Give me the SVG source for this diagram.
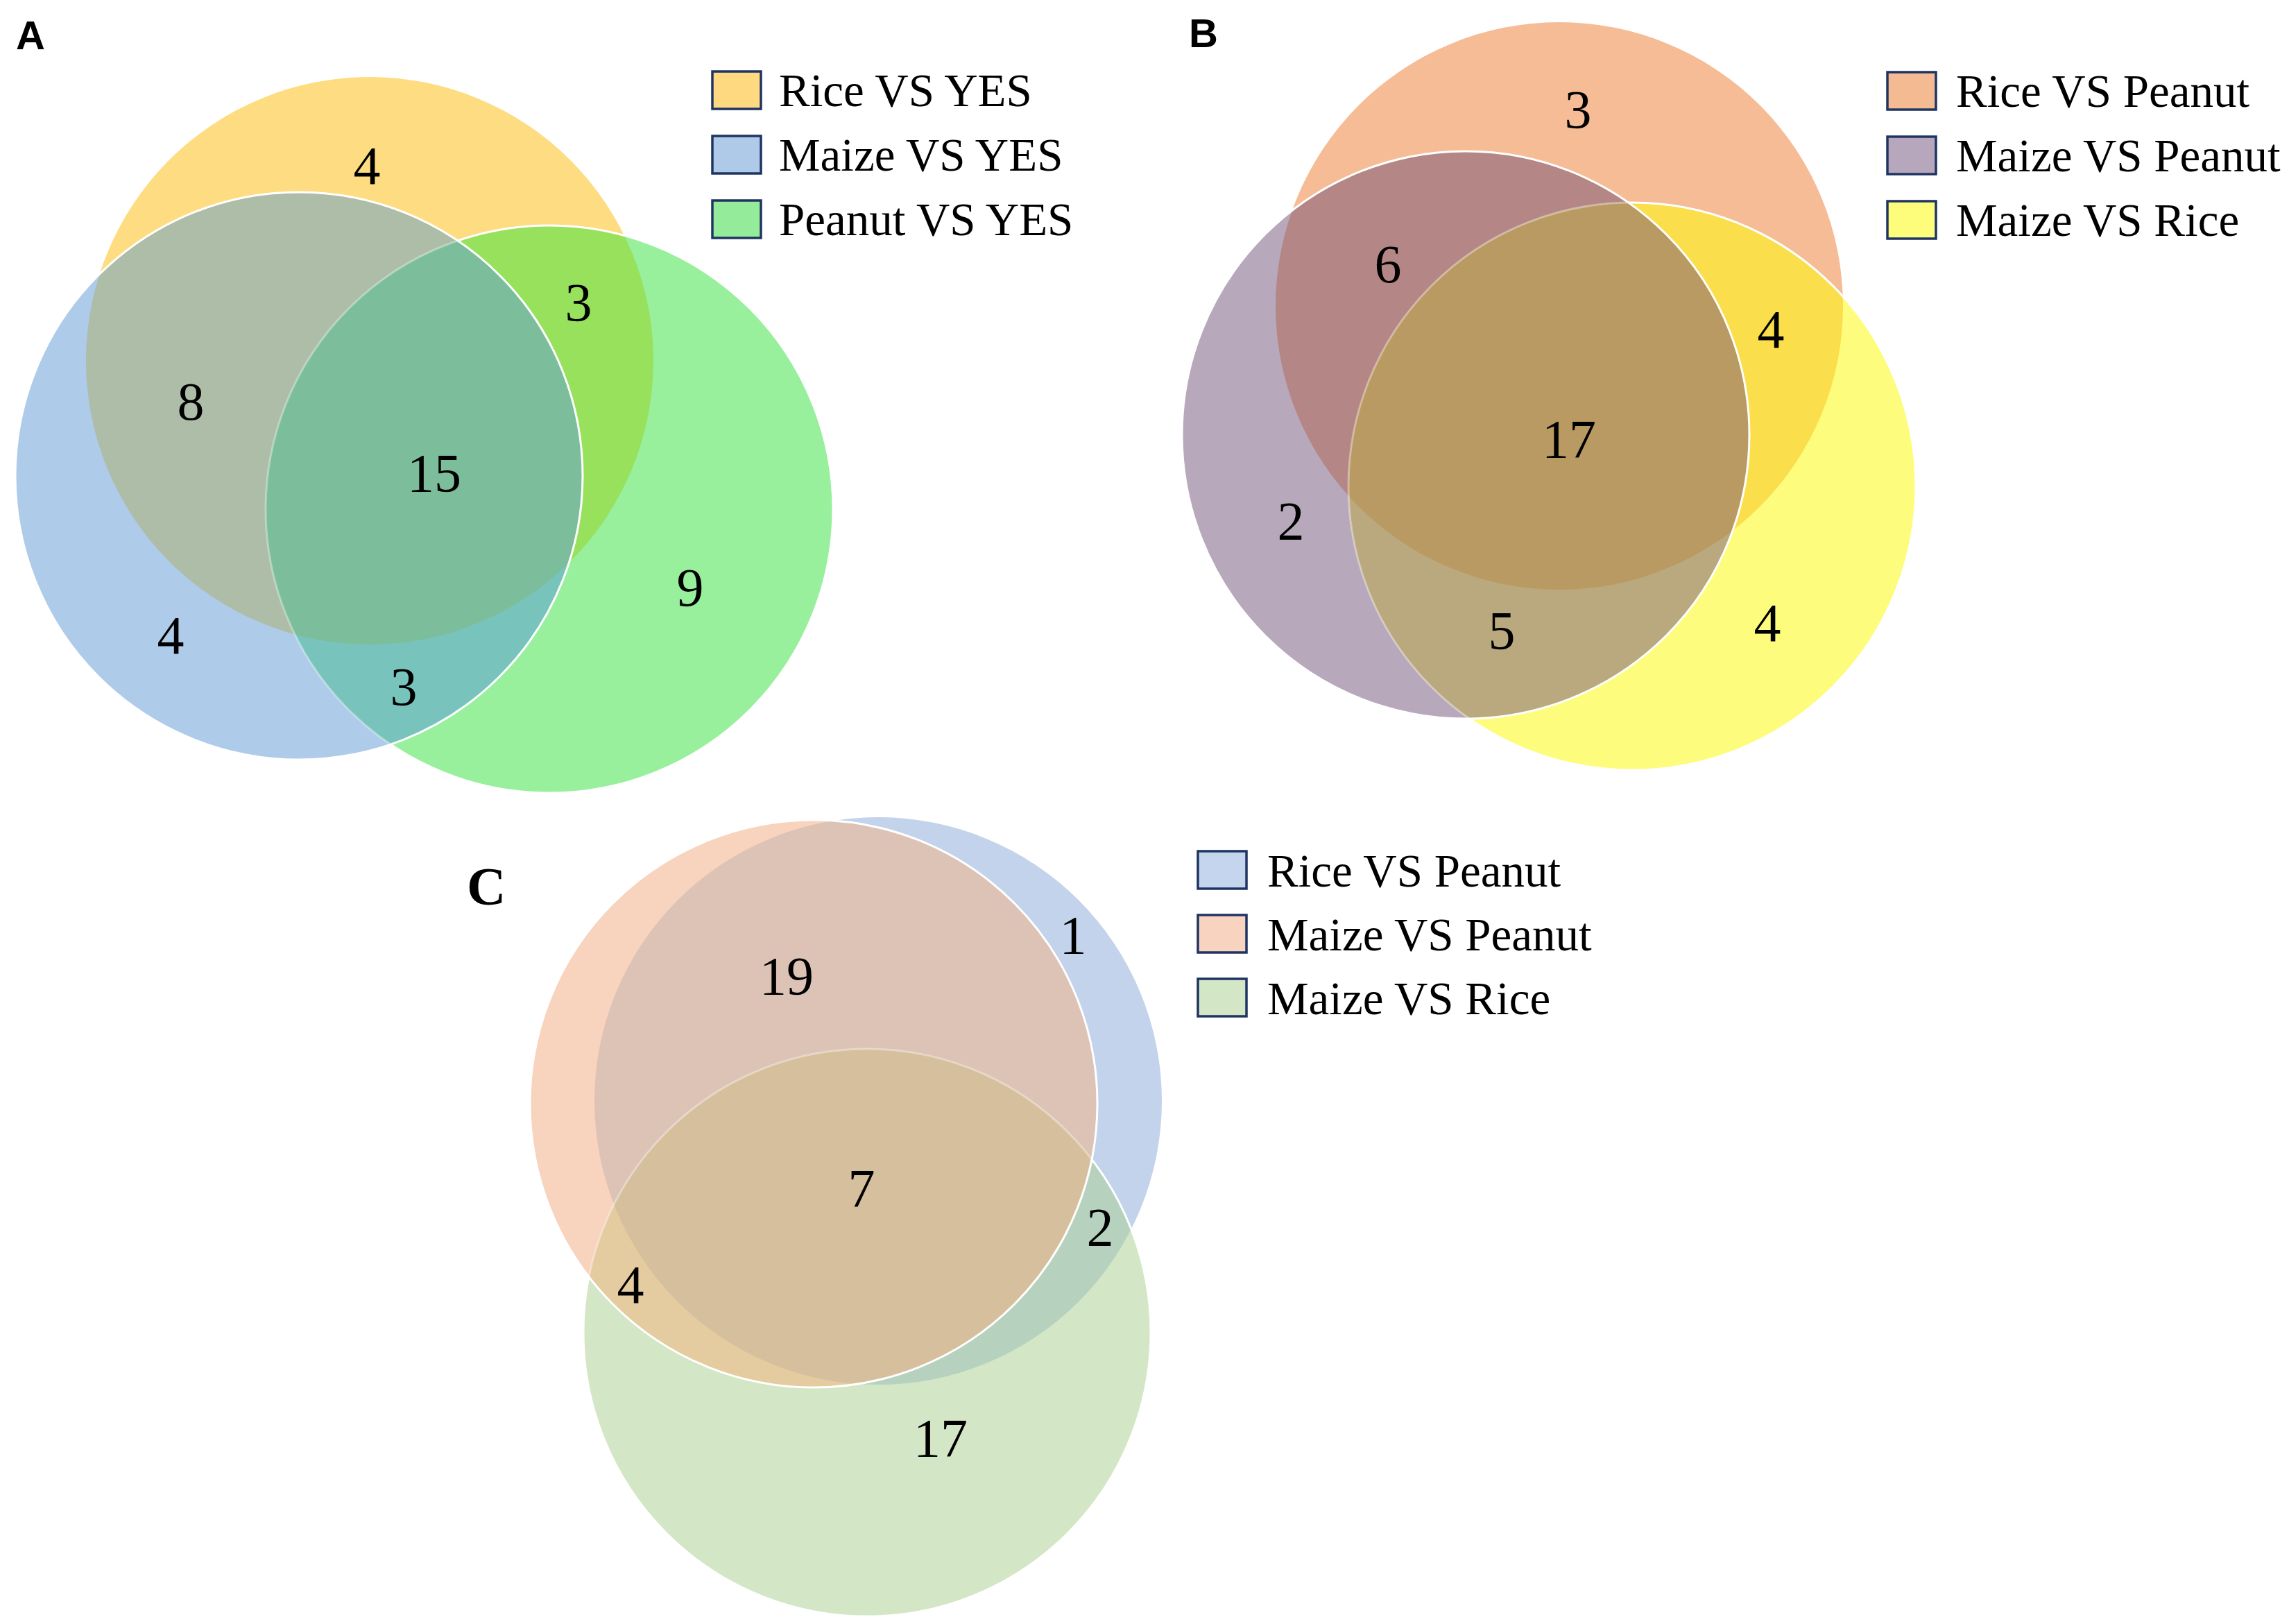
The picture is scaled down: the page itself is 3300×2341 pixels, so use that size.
<svg xmlns="http://www.w3.org/2000/svg" width="3300" height="2341" viewBox="0 0 3300 2341">
<style>
.num{font-family:"Liberation Serif","Times New Roman",serif;font-size:78px;fill:#000;text-anchor:middle}
.leg{font-family:"Liberation Serif","Times New Roman",serif;font-size:67px;fill:#000}
.box{stroke:#1f3462;stroke-width:3.5}
.edge{fill:none;stroke:#fff;stroke-width:3}
.faint{fill:none;stroke:#fff;stroke-width:3;stroke-opacity:0.35}
.panel{font-family:"Liberation Sans",Arial,sans-serif;font-weight:bold;font-size:58px;fill:#000}
</style>
<defs>
<clipPath id="aR"><circle cx="533" cy="520" r="409"/></clipPath>
<clipPath id="aM"><circle cx="431" cy="686" r="409"/></clipPath>
<clipPath id="aMout"><path clip-rule="evenodd" d="M0,0 H3300 V2341 H0 Z M22,686 a409,409 0 1,0 818,0 a409,409 0 1,0 -818,0 Z"/></clipPath>
<clipPath id="bO"><circle cx="2248" cy="441" r="409"/></clipPath>
<clipPath id="bP"><circle cx="2113" cy="627" r="409"/></clipPath>
<clipPath id="bPout"><path clip-rule="evenodd" d="M0,0 H3300 V2341 H0 Z M1704,627 a409,409 0 1,0 818,0 a409,409 0 1,0 -818,0 Z"/></clipPath>
<clipPath id="cB"><circle cx="1266" cy="1587" r="409"/></clipPath>
<clipPath id="cP"><circle cx="1173" cy="1591" r="409"/></clipPath>
<clipPath id="cPout"><path clip-rule="evenodd" d="M0,0 H3300 V2341 H0 Z M764,1591 a409,409 0 1,0 818,0 a409,409 0 1,0 -818,0 Z"/></clipPath>
</defs>
<rect width="3300" height="2341" fill="#fff"/>

<g id="panel-a">
  <text class="panel" x="23" y="71">A</text>
  <g id="venn-a">
    <circle id="a-rice" cx="533" cy="520" r="409" fill="#fedc81"/>
    <circle id="a-maize" cx="431" cy="686" r="409" fill="#aecbea"/>
    <circle id="a-peanut" cx="792" cy="734" r="409" fill="#98ef9c"/>
    <g clip-path="url(#aR)"><circle cx="431" cy="686" r="409" fill="#adbda7"/></g>
    <g clip-path="url(#aR)"><circle cx="792" cy="734" r="409" fill="#97e15c"/></g>
    <g clip-path="url(#aM)"><circle cx="792" cy="734" r="409" fill="#78c4bd"/></g>
    <g clip-path="url(#aR)"><g clip-path="url(#aM)"><circle cx="792" cy="734" r="409" fill="#7cbe9b"/></g></g>
    <g clip-path="url(#aMout)"><circle class="edge" cx="792" cy="734" r="409"/></g>
    <g clip-path="url(#aM)"><circle class="faint" cx="792" cy="734" r="409"/></g>
    <circle class="edge" cx="431" cy="686" r="409"/>
  </g>
  <g id="a-labels">
    <text class="num" x="529" y="265">4</text>
    <text class="num" x="275" y="605">8</text>
    <text class="num" x="626" y="708">15</text>
    <text class="num" x="834" y="462">3</text>
    <text class="num" x="995" y="873">9</text>
    <text class="num" x="246" y="942">4</text>
    <text class="num" x="582" y="1016">3</text>
  </g>
  <g id="legend-a">
    <rect class="box" x="1027" y="103" width="70" height="54" fill="#fed980"/>
    <text class="leg" x="1123" y="153">Rice VS YES</text>
    <rect class="box" x="1027" y="196" width="70" height="54" fill="#afc9e8"/>
    <text class="leg" x="1123" y="246">Maize VS YES</text>
    <rect class="box" x="1027" y="289" width="70" height="54" fill="#94ec9a"/>
    <text class="leg" x="1123" y="339">Peanut VS YES</text>
  </g>
</g>

<g id="panel-b">
  <text class="panel" x="1714" y="68">B</text>
  <g id="venn-b">
    <circle id="b-rice-peanut" cx="2248" cy="441" r="409" fill="#f5bc95"/>
    <circle id="b-maize-peanut" cx="2113" cy="627" r="409" fill="#b8a8bc"/>
    <circle id="b-maize-rice" cx="2353" cy="701" r="409" fill="#fefc7c"/>
    <g clip-path="url(#bO)"><circle cx="2113" cy="627" r="409" fill="#b48685"/></g>
    <g clip-path="url(#bO)"><circle cx="2353" cy="701" r="409" fill="#fade4c"/></g>
    <g clip-path="url(#bP)"><circle cx="2353" cy="701" r="409" fill="#baa97e"/></g>
    <g clip-path="url(#bO)"><g clip-path="url(#bP)"><circle cx="2353" cy="701" r="409" fill="#b99a62"/></g></g>
    <g clip-path="url(#bPout)"><circle class="edge" cx="2353" cy="701" r="409"/></g>
    <g clip-path="url(#bP)"><circle class="faint" cx="2353" cy="701" r="409"/></g>
    <circle class="edge" cx="2113" cy="627" r="409"/>
  </g>
  <g id="b-labels">
    <text class="num" x="2275" y="184">3</text>
    <text class="num" x="2001" y="407">6</text>
    <text class="num" x="2553" y="501">4</text>
    <text class="num" x="2262" y="659">17</text>
    <text class="num" x="1861" y="777">2</text>
    <text class="num" x="2165" y="935">5</text>
    <text class="num" x="2548" y="924">4</text>
  </g>
  <g id="legend-b">
    <rect class="box" x="2721" y="104" width="70" height="54" fill="#f4ba92"/>
    <text class="leg" x="2820" y="154">Rice VS Peanut</text>
    <rect class="box" x="2721" y="197" width="70" height="54" fill="#b7a7bd"/>
    <text class="leg" x="2820" y="247">Maize VS Peanut</text>
    <rect class="box" x="2721" y="290" width="70" height="54" fill="#fefd7b"/>
    <text class="leg" x="2820" y="340">Maize VS Rice</text>
  </g>
</g>

<g id="panel-c">
  <text x="673" y="1304" style="font-family:'Liberation Serif','Times New Roman',serif;font-weight:bold;font-size:78px;fill:#000">C</text>
  <g id="venn-c">
    <circle id="c-rice-peanut" cx="1266" cy="1587" r="409" fill="#c3d3ec"/>
    <circle id="c-maize-peanut" cx="1173" cy="1591" r="409" fill="#f8d3bd"/>
    <circle id="c-maize-rice" cx="1250" cy="1921" r="409" fill="#d3e6c5"/>
    <g clip-path="url(#cB)"><circle cx="1173" cy="1591" r="409" fill="#ddc3b6"/></g>
    <g clip-path="url(#cB)"><circle cx="1250" cy="1921" r="409" fill="#b6d2bf"/></g>
    <g clip-path="url(#cP)"><circle cx="1250" cy="1921" r="409" fill="#e5cba0"/></g>
    <g clip-path="url(#cB)"><g clip-path="url(#cP)"><circle cx="1250" cy="1921" r="409" fill="#d6bf9c"/></g></g>
    <g clip-path="url(#cPout)"><circle class="edge" cx="1250" cy="1921" r="409"/></g>
    <g clip-path="url(#cP)"><circle class="faint" cx="1250" cy="1921" r="409"/></g>
    <circle class="edge" cx="1173" cy="1591" r="409"/>
  </g>
  <g id="c-labels">
    <text class="num" x="1134" y="1433">19</text>
    <text class="num" x="1547" y="1374">1</text>
    <text class="num" x="1242" y="1739">7</text>
    <text class="num" x="1586" y="1795">2</text>
    <text class="num" x="909" y="1878">4</text>
    <text class="num" x="1356" y="2099">17</text>
  </g>
  <g id="legend-c">
    <rect class="box" x="1727" y="1227" width="70" height="54" fill="#c5d5ee"/>
    <text class="leg" x="1827" y="1278">Rice VS Peanut</text>
    <rect class="box" x="1727" y="1319" width="70" height="54" fill="#f8d3bf"/>
    <text class="leg" x="1827" y="1370">Maize VS Peanut</text>
    <rect class="box" x="1727" y="1411" width="70" height="54" fill="#d3e6c6"/>
    <text class="leg" x="1827" y="1462">Maize VS Rice</text>
  </g>
</g>
</svg>
